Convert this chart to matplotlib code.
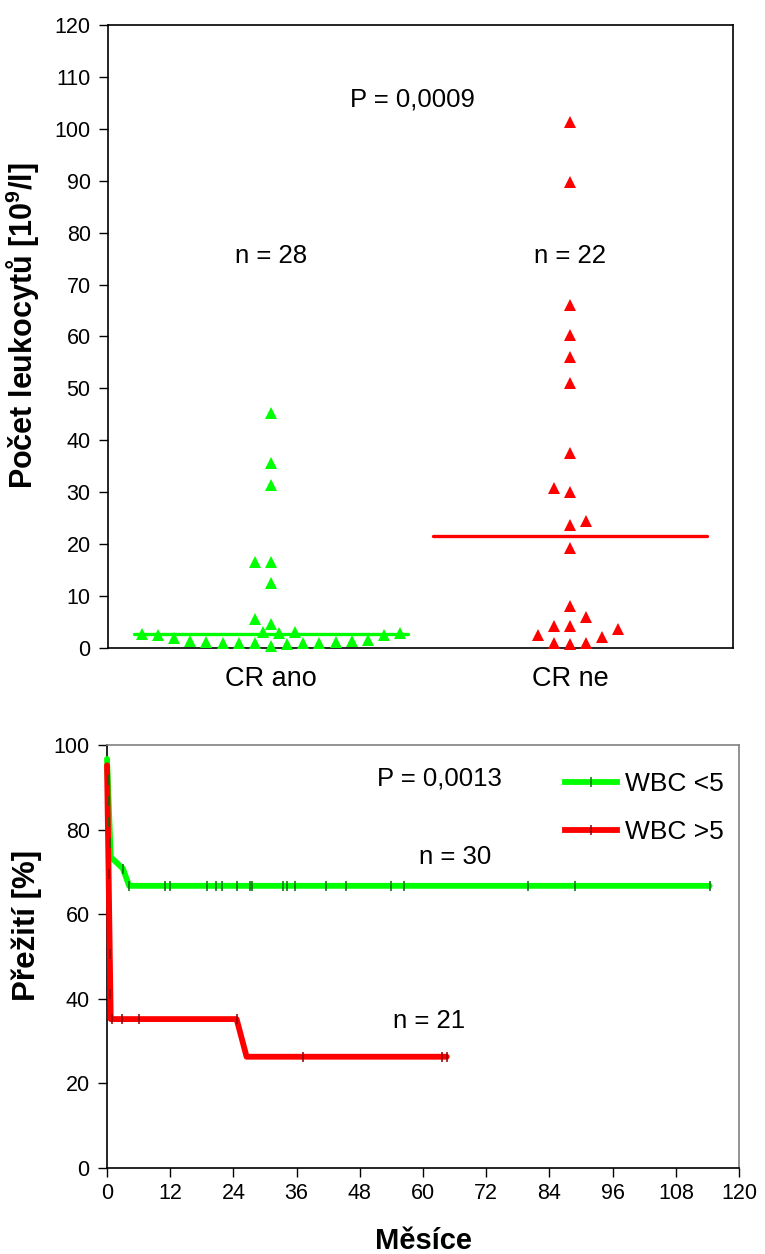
import numpy as np
import matplotlib
matplotlib.use('Agg')
import matplotlib.pyplot as plt
from matplotlib.lines import Line2D

plt.rcParams['font.family'] = ['Liberation Sans', 'DejaVu Sans']
plt.rcParams['mathtext.fontset'] = 'custom'
plt.rcParams['mathtext.rm'] = 'Liberation Sans'
plt.rcParams['mathtext.bf'] = 'Liberation Sans:bold'

# --- top panel: leukocyte counts by response ---
categories = ['CR ano', 'CR ne']
group_n = ['n = 28', 'n = 22']
medians = [2.65, 21.6]
p_top = 'P = 0,0009'

cr_ano = [45.3, 35.6, 31.3, 16.5, 16.5, 12.5, 5.6, 4.6,
          2.6, 2.5, 3.0, 2.8, 3.1, 2.5, 2.8,
          1.9, 1.35, 1.2, 1.0, 0.9, 0.9, 0.45, 0.7, 0.9, 1.0, 1.2, 1.35, 1.5]
cr_ano_cols = [0, 0, 0, -1, 0, 0, -1, 0,
               -8, -7, -0.5, 0.5, 1.5, 7, 8,
               -6, -5, -4, -3, -2, -1, 0, 1, 2, 3, 4, 5, 6]
cr_ne = [101.3, 89.8, 66.0, 60.2, 56.0, 51.1, 37.5, 30.9, 30.0, 23.7, 24.5,
         19.2, 8.1, 6.0, 4.2, 4.2, 3.7, 2.4, 2.2, 1.0, 0.8, 1.0]
cr_ne_cols = [0, 0, 0, 0, 0, 0, 0, -1, 0, 0, 1,
              0, 0, 1, -1, 0, 3, -2, 2, -1, 0, 1]

# --- bottom panel: survival by WBC ---
wbc_lo_t = [0, 0.7, 3.0, 4.2, 114.4]
wbc_lo_s = [96.7, 73.5, 70.8, 66.7, 66.7]
wbc_lo_cens = [0.15, 0.3, 0.45, 0.6, 3.0, 4.2, 11.1, 11.9, 19.0, 20.6, 21.8, 24.7,
               27.2, 27.5, 33.4, 34.1, 35.7, 41.5, 45.3, 54.0, 56.4, 80.0, 88.8, 114.4]
wbc_hi_t = [0, 0.7, 24.6, 26.5, 64.5]
wbc_hi_s = [95.2, 35.2, 35.2, 26.3, 26.3]
wbc_hi_cens = [0.3, 0.52, 0.63, 0.9, 2.8, 6.1, 24.6, 37.2, 63.6, 64.5]
p_bottom = 'P = 0,0013'

GREEN = '#00ff00'
RED = '#ff0000'
fs_tick = 15.5
fs_note = 18.5
fs_lab = 21

fig = plt.figure(figsize=(7.65, 12.54), dpi=100)

ax1 = fig.add_axes([0.1412, 0.4833, 0.8170, 0.4968])
step = 0.054
for i, (vals, cols, col) in enumerate([(cr_ano, cr_ano_cols, GREEN), (cr_ne, cr_ne_cols, RED)]):
    xc = i + 1
    xs = xc + np.array(cols) * step
    ax1.plot(xs, vals, '^', color=col, markersize=9, markeredgewidth=0, clip_on=False, zorder=3)
    ax1.plot([xc - 0.457, xc + 0.457], [medians[i], medians[i]], color=col, lw=2.4,
             solid_capstyle='round', zorder=2)
    ax1.text(xc, 75.5, group_n[i], ha='center', va='center', fontsize=fs_note)
ax1.text(1.472, 105.6, p_top, ha='center', va='center', fontsize=fs_note)
ax1.set_xlim(0.455, 2.545)
ax1.set_ylim(0, 120)
ax1.set_yticks(np.arange(0, 121, 10))
ax1.set_xticks([1, 2])
ax1.set_xticklabels(categories)
ax1.tick_params(axis='x', length=0, pad=13, labelsize=19.5)
ax1.tick_params(axis='y', length=6.5, width=1, labelsize=fs_tick, pad=6)
ax1.set_ylabel(r'Počet leukocytů [10$^{\mathbf{9}}$/l]', fontsize=22, fontweight='bold')
ax1.yaxis.set_label_coords(-0.106, 0.518)
for s in ax1.spines.values():
    s.set_linewidth(1.2)

ax2 = fig.add_axes([0.1399, 0.0686, 0.8262, 0.3373])
curves = [(wbc_lo_t, wbc_lo_s, wbc_lo_cens, GREEN, '#007000', 'WBC <5'),
          (wbc_hi_t, wbc_hi_s, wbc_hi_cens, RED, '#8b0000', 'WBC >5')]
handles = []
for t, s, cens, col, dark, lab in curves:
    ax2.plot(t, s, color=col, lw=4.2, solid_capstyle='round', solid_joinstyle='round',
             clip_on=False, zorder=3)
    ax2.plot(cens, np.interp(cens, t, s), '|', color=dark, markersize=7,
             markeredgewidth=1.1, clip_on=False, zorder=4)
    handles.append(Line2D([], [], color=col, lw=4.2, marker='|', markersize=7,
                          markeredgecolor=dark, markeredgewidth=1.1))
ax2.legend(handles, [c[5] for c in curves], loc='upper right', bbox_to_anchor=(0.975, 0.936),
           frameon=False, fontsize=19, handlelength=2.0, handletextpad=0.27,
           labelspacing=0.92, borderaxespad=0, borderpad=0)
ax2.text(63.1, 92, p_bottom, ha='center', va='center', fontsize=fs_note)
ax2.text(66, 73.5, 'n = 30', ha='center', va='center', fontsize=fs_note)
ax2.text(61.2, 34.8, 'n = 21', ha='center', va='center', fontsize=fs_note)
ax2.set_xlim(0, 120)
ax2.set_ylim(0, 100)
ax2.set_xticks(np.arange(0, 121, 12))
ax2.set_yticks(np.arange(0, 101, 20))
ax2.tick_params(axis='x', length=6.5, width=1, labelsize=fs_tick, pad=4)
ax2.tick_params(axis='y', length=6.5, width=1, labelsize=fs_tick, pad=6)
ax2.set_xlabel('Měsíce', fontsize=fs_lab, fontweight='bold', labelpad=17)
ax2.set_ylabel('Přežití [%]', fontsize=22.5, fontweight='bold')
ax2.yaxis.set_label_coords(-0.103, 0.574)
for side in ['top', 'right']:
    ax2.spines[side].set_color('#808080')
for s in ax2.spines.values():
    s.set_linewidth(1.2)

fig.savefig('out.png', dpi=100)
